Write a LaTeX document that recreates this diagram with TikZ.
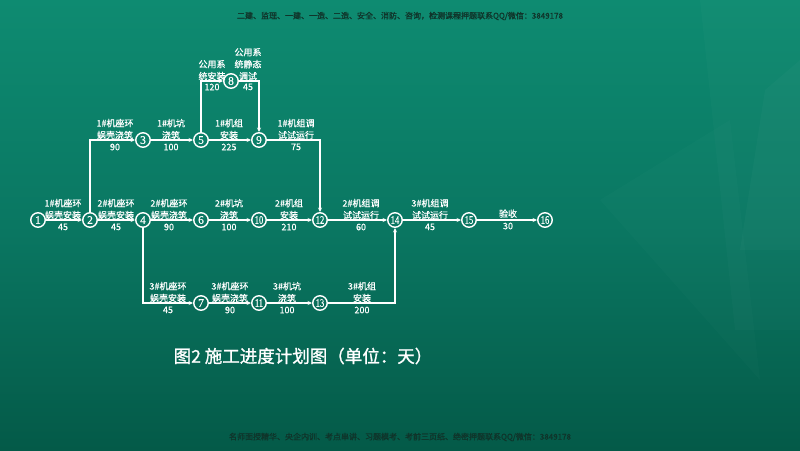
\documentclass[tikz,border=0pt]{standalone}
\usepackage{fontspec}
\usepackage{graphicx}
\setmainfont{Noto Sans CJK SC}
\newfontfamily\cjk[FakeBold=0.6]{Noto Sans CJK SC}
\newfontfamily\cjkcap[FakeBold=1.2]{Noto Sans CJK SC}
\newfontfamily\cjkwm[FakeBold=1.0]{Noto Sans CJK SC}
\newfontfamily\numf[FakeBold=0.5]{Liberation Serif}
\usetikzlibrary{arrows.meta}

\definecolor{bgtop}{HTML}{0E8B71}
\definecolor{bgmid}{HTML}{0A7762}
\definecolor{bgbot}{HTML}{045A48}
\definecolor{wm}{HTML}{10342A}

\newcommand\twod[1]{\scalebox{0.74}[1]{#1}}

\tikzset{
 ev/.style={circle,draw=white,line width=1.4pt,minimum size=14.5pt,inner sep=0pt,text=white,font=\numf\fontsize{11.5}{11.5}\selectfont},
 act/.style={draw=white,line width=1.1pt,-{Stealth[length=4.5pt,width=4pt]}},
 lab/.style={anchor=south,inner sep=0pt,text=white,align=center,font=\cjk\fontsize{9}{12}\selectfont},
 dur/.style={anchor=north,inner sep=0pt,text=white,font=\cjk\fontsize{9}{12}\selectfont},
 wmark/.style={text=wm,inner sep=0pt,font=\cjkwm\fontsize{8}{8}\selectfont},
}

\begin{document}
\begin{tikzpicture}[x=1pt,y=-1pt]
\useasboundingbox (0,0) rectangle (800,450);
\shade[top color=bgtop,bottom color=bgbot,middle color=bgmid] (0,0) rectangle (800,450);
% faint background polygons
\fill[white,opacity=0.02] (700,0) -- (800,0) -- (800,330) -- (735,330) -- cycle;
\fill[white,opacity=0.025] (765,90) -- (800,60) -- (800,250) -- (740,250) -- cycle;
\fill[white,opacity=0.015] (600,200) -- (730,120) -- (760,380) -- cycle;

% watermark texts
\node[wmark] (wtop) at (400,16) {二建、监理、一建、一造、二造、安全、消防、咨询，检测课程押题联系QQ/微信：3849178};
\node[wmark] (wbot) at (400,437) {名师面授精华、央企内训、考点串讲、习题模考、考前三页纸、绝密押题联系QQ/微信：3849178};

% events
\node[ev] (n1) at (38,220) {1};
\node[ev] (n2) at (90,220) {2};
\node[ev] (n3) at (143,140) {3};
\node[ev] (n4) at (143,220) {4};
\node[ev] (n5) at (201,140) {5};
\node[ev] (n6) at (201,220) {6};
\node[ev] (n7) at (201,303) {7};
\node[ev] (n8) at (231,81) {8};
\node[ev] (n9) at (259,140) {9};
\node[ev] (n10) at (259,220) {\twod{10}};
\node[ev] (n11) at (259,303) {\twod{11}};
\node[ev] (n12) at (320,220) {\twod{12}};
\node[ev] (n13) at (320,303) {\twod{13}};
\node[ev] (n14) at (395,220) {\twod{14}};
\node[ev] (n15) at (469,220) {\twod{15}};
\node[ev] (n16) at (545,220) {\twod{16}};

% activities
\draw[act] (n1) -- (n2);
\draw[act] (n2) |- (n3);
\draw[act] (n3) -- (n5);
\draw[act] (n5) -- (n9);
\draw[act] (n5) |- (n8);
\draw[act] (n8) -| (n9);
\draw[act] (n9) -| (n12);
\draw[act] (n2) -- (n4);
\draw[act] (n4) -- (n6);
\draw[act] (n6) -- (n10);
\draw[act] (n10) -- (n12);
\draw[act] (n12) -- (n14);
\draw[act] (n14) -- (n15);
\draw[act] (n15) -- (n16);
\draw[act] (n4) |- (n7);
\draw[act] (n7) -- (n11);
\draw[act] (n11) -- (n13);
\draw[act] (n13) -| (n14);

% labels: top row (y=140)
\node[lab] (a23) at (115,139.5) {1\#机座环\\蜗壳浇筑};
\node[dur] (d23) at (115,143.5) {90};
\node[lab] (a35) at (171,139.5) {1\#机坑\\浇筑};
\node[dur] (d35) at (171,143.5) {100};
\node[lab] (a59) at (229,139.5) {1\#机组\\安装};
\node[dur] (d59) at (229,143.5) {225};
\node[lab] (a912) at (296,139.5) {1\#机组调\\试试运行};
\node[dur] (d912) at (296,143.5) {75};
% node 8 segments (y=81)
\node[lab] (a58) at (212,80.5) {公用系\\统安装};
\node[dur] (d58) at (212,83.5) {120};
\node[lab] (a89) at (248,80.5) {公用系\\统静态\\调试};
\node[dur] (d89) at (248,83.5) {45};
% middle row (y=220)
\node[lab] (a12) at (63,219.5) {1\#机座环\\蜗壳安装};
\node[dur] (d12) at (63,223.5) {45};
\node[lab] (a24) at (116,219.5) {2\#机座环\\蜗壳安装};
\node[dur] (d24) at (116,223.5) {45};
\node[lab] (a46) at (169,219.5) {2\#机座环\\蜗壳浇筑};
\node[dur] (d46) at (169,223.5) {90};
\node[lab] (a610) at (229,219.5) {2\#机坑\\浇筑};
\node[dur] (d610) at (229,223.5) {100};
\node[lab] (a1012) at (289,219.5) {2\#机组\\安装};
\node[dur] (d1012) at (289,223.5) {210};
\node[lab] (a1214) at (361,219.5) {2\#机组调\\试试运行};
\node[dur] (d1214) at (361,223.5) {60};
\node[lab] (a1415) at (430,219.5) {3\#机组调\\试试运行};
\node[dur] (d1415) at (430,223.5) {45};
\node[lab] (a1516) at (508,218) {验收};
\node[dur] (d1516) at (508,222.5) {30};
% bottom row (y=303)
\node[lab] (a47) at (168,302.5) {3\#机座环\\蜗壳安装};
\node[dur] (d47) at (168,306.5) {45};
\node[lab] (a711) at (230,302.5) {3\#机座环\\蜗壳浇筑};
\node[dur] (d711) at (230,306.5) {90};
\node[lab] (a1113) at (287,302.5) {3\#机坑\\浇筑};
\node[dur] (d1113) at (287,306.5) {100};
\node[lab] (a1314) at (362,302.5) {3\#机组\\安装};
\node[dur] (d1314) at (362,306.5) {200};

% caption
\node[text=white,inner sep=0pt,font=\cjkcap\fontsize{17.5}{17.5}\selectfont] (cap) at (303,356) {图2 施工进度计划图（单位：天）};
\end{tikzpicture}
\end{document}
